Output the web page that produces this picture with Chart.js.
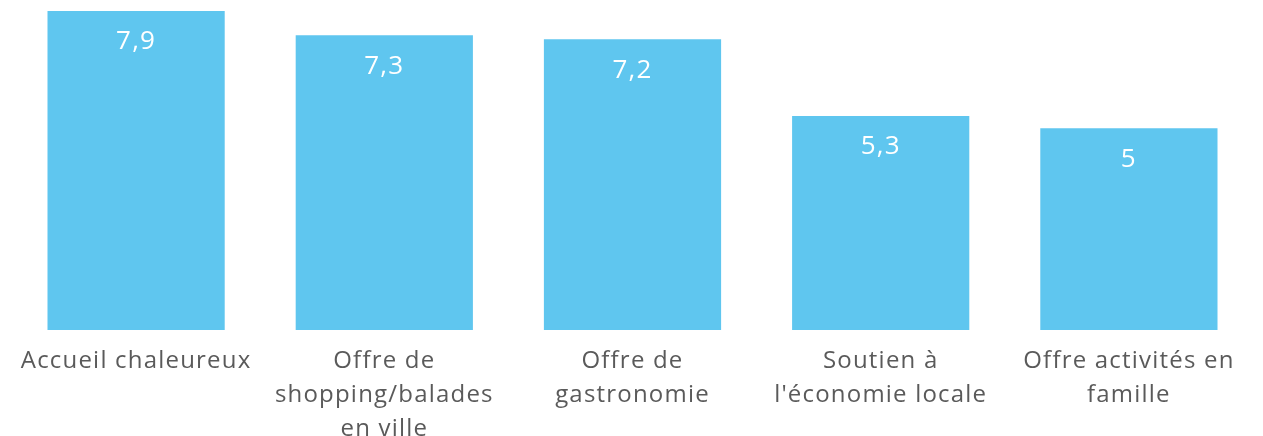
<!doctype html>
<html>
<head>
  <meta charset="utf-8">
  <title>Notes</title>
  <script src="https://cdn.jsdelivr.net/npm/chart.js@4.4.1/dist/chart.umd.min.js"></script>
  <style>
    html, body { margin: 0; padding: 0; background: #fff; }
    .wrap { width: 1263px; height: 436px; }
  </style>
</head>
<body>
  <div class="wrap"><canvas id="notes"></canvas></div>

  <script>
    // categories (split over lines as shown under each bar)
    var categories = [
      ["Accueil chaleureux"],
      ["Offre de", "shopping/balades", "en ville"],
      ["Offre de", "gastronomie"],
      ["Soutien à", "l'économie locale"],
      ["Offre activités en", "famille"]
    ];
    var scores = [7.9, 7.3, 7.2, 5.3, 5];

    var barColor = "#5fc6ef";
    var fontFamily = "'Open Sans', sans-serif";

    // slightly wider tracking for all canvas text
    var tracking = {
      id: "tracking",
      beforeDraw: function(chart) {
        chart.ctx.letterSpacing = "1.2px";
      }
    };

    // white value written inside the top of each bar, French decimal comma
    var valueLabels = {
      id: "valueLabels",
      afterDatasetsDraw: function(chart) {
        var ctx = chart.ctx;
        var meta = chart.getDatasetMeta(0);
        ctx.save();
        ctx.fillStyle = "#ffffff";
        ctx.font = "26px " + fontFamily;
        ctx.letterSpacing = "1.2px";
        ctx.textAlign = "center";
        ctx.textBaseline = "middle";
        meta.data.forEach(function(bar, i) {
          var txt = String(scores[i]).replace(".", ",");
          ctx.fillText(txt, bar.x, bar.y + 31);
        });
        ctx.restore();
      }
    };

    new Chart(document.getElementById("notes"), {
      type: "bar",
      data: {
        labels: categories,
        datasets: [{
          data: scores,
          backgroundColor: barColor,
          borderWidth: 0,
          barPercentage: 0.714,
          categoryPercentage: 1
        }]
      },
      options: {
        responsive: true,
        maintainAspectRatio: false,
        animation: false,
        layout: { padding: { top: 7, left: 12, right: 10, bottom: 0 } },
        plugins: {
          legend: { display: false },
          tooltip: { enabled: false }
        },
        scales: {
          x: {
            grid: { display: false, drawTicks: false },
            border: { display: false },
            ticks: {
              color: "#5a5a5a",
              padding: 14,
              maxRotation: 0,
              autoSkip: false,
              font: { family: fontFamily, size: 24, lineHeight: 1.42 }
            },
            afterFit: function(scale) { scale.height = 106; }
          },
          y: {
            display: false,
            min: 0,
            max: 8
          }
        }
      },
      plugins: [tracking, valueLabels]
    });
  </script>
</body>
</html>
